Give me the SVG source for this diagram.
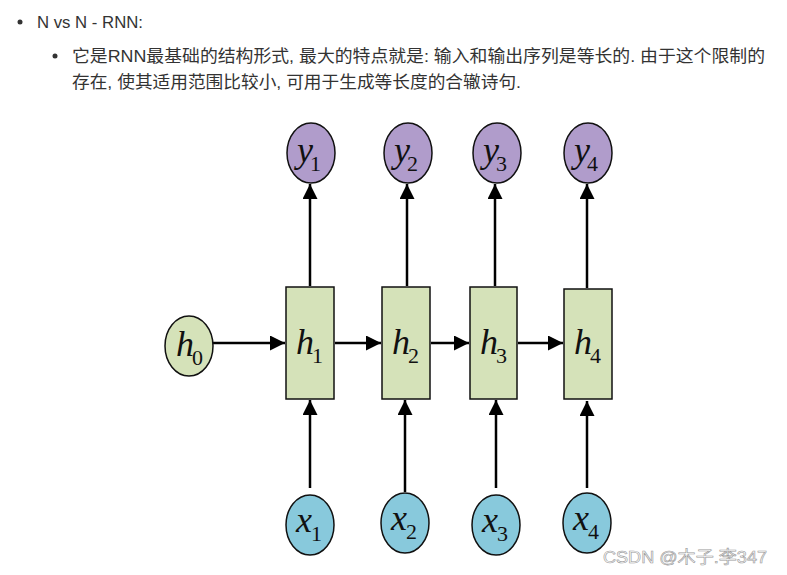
<svg xmlns="http://www.w3.org/2000/svg" width="787" height="575" viewBox="0 0 787 575">
<defs>
<style>
.t{font-family:"Liberation Sans","Noto Sans CJK SC",sans-serif;font-size:17px;fill:#333}
.m{font-family:"Liberation Serif",serif;font-style:italic;font-size:36px;fill:#111}
.s{font-family:"Liberation Serif",serif;font-style:normal;font-size:22px;fill:#111}
.y{fill:#b09ccb;stroke:#111;stroke-width:1.5}
.h{fill:#d5e2b9;stroke:#111;stroke-width:1.5}
.x{fill:#88c9dc;stroke:#111;stroke-width:1.5}
.c line{stroke:#000;stroke-width:2.5;marker-end:url(#a)}
.w{font-family:"Liberation Sans","Noto Sans CJK SC",sans-serif;font-size:17px;fill:#fff;stroke:#999;stroke-width:0.6}
</style>
<marker id="a" viewBox="0 0 10 10" refX="10" refY="5" markerWidth="6" markerHeight="6" orient="auto" markerUnits="strokeWidth"><path d="M0,0L10,5L0,10z" fill="#000"/></marker>
</defs>
<rect width="787" height="575" fill="#fff"/>
<g id="text">
<circle cx="20" cy="22" r="2.5" fill="#333"/>
<text class="t" x="37" y="28" textLength="106" lengthAdjust="spacingAndGlyphs">N vs N - RNN:</text>
<circle cx="55" cy="56" r="2.5" fill="#333"/>
<text class="t" x="72" y="62" textLength="693" lengthAdjust="spacingAndGlyphs">它是RNN最基础的结构形式, 最大的特点就是: 输入和输出序列是等长的. 由于这个限制的</text>
<text class="t" x="72" y="88" textLength="449" lengthAdjust="spacingAndGlyphs">存在, 使其适用范围比较小, 可用于生成等长度的合辙诗句.</text>
</g>
<g class="c" id="connectors">
<line x1="213" y1="343" x2="285" y2="343"/>
<line x1="335" y1="343" x2="381" y2="343"/>
<line x1="431" y1="343" x2="469" y2="343"/>
<line x1="518" y1="343" x2="563" y2="343"/>
<line x1="310" y1="286" x2="310" y2="184"/>
<line x1="407" y1="286" x2="407" y2="184"/>
<line x1="495" y1="286" x2="495" y2="184"/>
<line x1="587" y1="288" x2="587" y2="184"/>
<line x1="310" y1="488" x2="310" y2="400"/>
<line x1="405" y1="492" x2="405" y2="400"/>
<line x1="496" y1="488" x2="496" y2="400"/>
<line x1="587" y1="488" x2="587" y2="401"/>
</g>
<g id="h0"><ellipse class="h" cx="189" cy="346" rx="24" ry="30"/><text class="m" x="176" y="356">h<tspan class="s" dy="9" dx="-2">0</tspan></text></g>
<g id="h1"><rect class="h" x="286" y="287" width="48" height="112"/><text class="m" x="296" y="354">h<tspan class="s" dy="9" dx="-2">1</tspan></text></g>
<g id="h2"><rect class="h" x="382" y="287" width="48" height="112"/><text class="m" x="392" y="354">h<tspan class="s" dy="9" dx="-2">2</tspan></text></g>
<g id="h3"><rect class="h" x="470" y="287" width="47" height="112"/><text class="m" x="480" y="354">h<tspan class="s" dy="9" dx="-2">3</tspan></text></g>
<g id="h4"><rect class="h" x="564" y="289" width="48" height="110"/><text class="m" x="574" y="354">h<tspan class="s" dy="9" dx="-2">4</tspan></text></g>
<g id="y1"><ellipse class="y" cx="311" cy="153" rx="24" ry="30"/><text class="m" x="297" y="162">y<tspan class="s" dy="9" dx="-3">1</tspan></text></g>
<g id="y2"><ellipse class="y" cx="408" cy="153" rx="24" ry="30"/><text class="m" x="394" y="162">y<tspan class="s" dy="9" dx="-3">2</tspan></text></g>
<g id="y3"><ellipse class="y" cx="497" cy="153" rx="24" ry="30"/><text class="m" x="483" y="162">y<tspan class="s" dy="9" dx="-3">3</tspan></text></g>
<g id="y4"><ellipse class="y" cx="588" cy="153" rx="24" ry="30"/><text class="m" x="574" y="162">y<tspan class="s" dy="9" dx="-3">4</tspan></text></g>
<g id="x1"><ellipse class="x" cx="310" cy="525" rx="24" ry="30"/><text class="m" x="296" y="532">x<tspan class="s" dy="9" dx="-1">1</tspan></text></g>
<g id="x2"><ellipse class="x" cx="405" cy="523" rx="24" ry="30"/><text class="m" x="391" y="530">x<tspan class="s" dy="9" dx="-1">2</tspan></text></g>
<g id="x3"><ellipse class="x" cx="496" cy="525" rx="24" ry="30"/><text class="m" x="482" y="532">x<tspan class="s" dy="9" dx="-1">3</tspan></text></g>
<g id="x4"><ellipse class="x" cx="587" cy="523" rx="24" ry="30"/><text class="m" x="573" y="530">x<tspan class="s" dy="9" dx="-1">4</tspan></text></g>
<text class="w" x="603" y="563" textLength="164" lengthAdjust="spacingAndGlyphs">CSDN @木子.李347</text>
</svg>
